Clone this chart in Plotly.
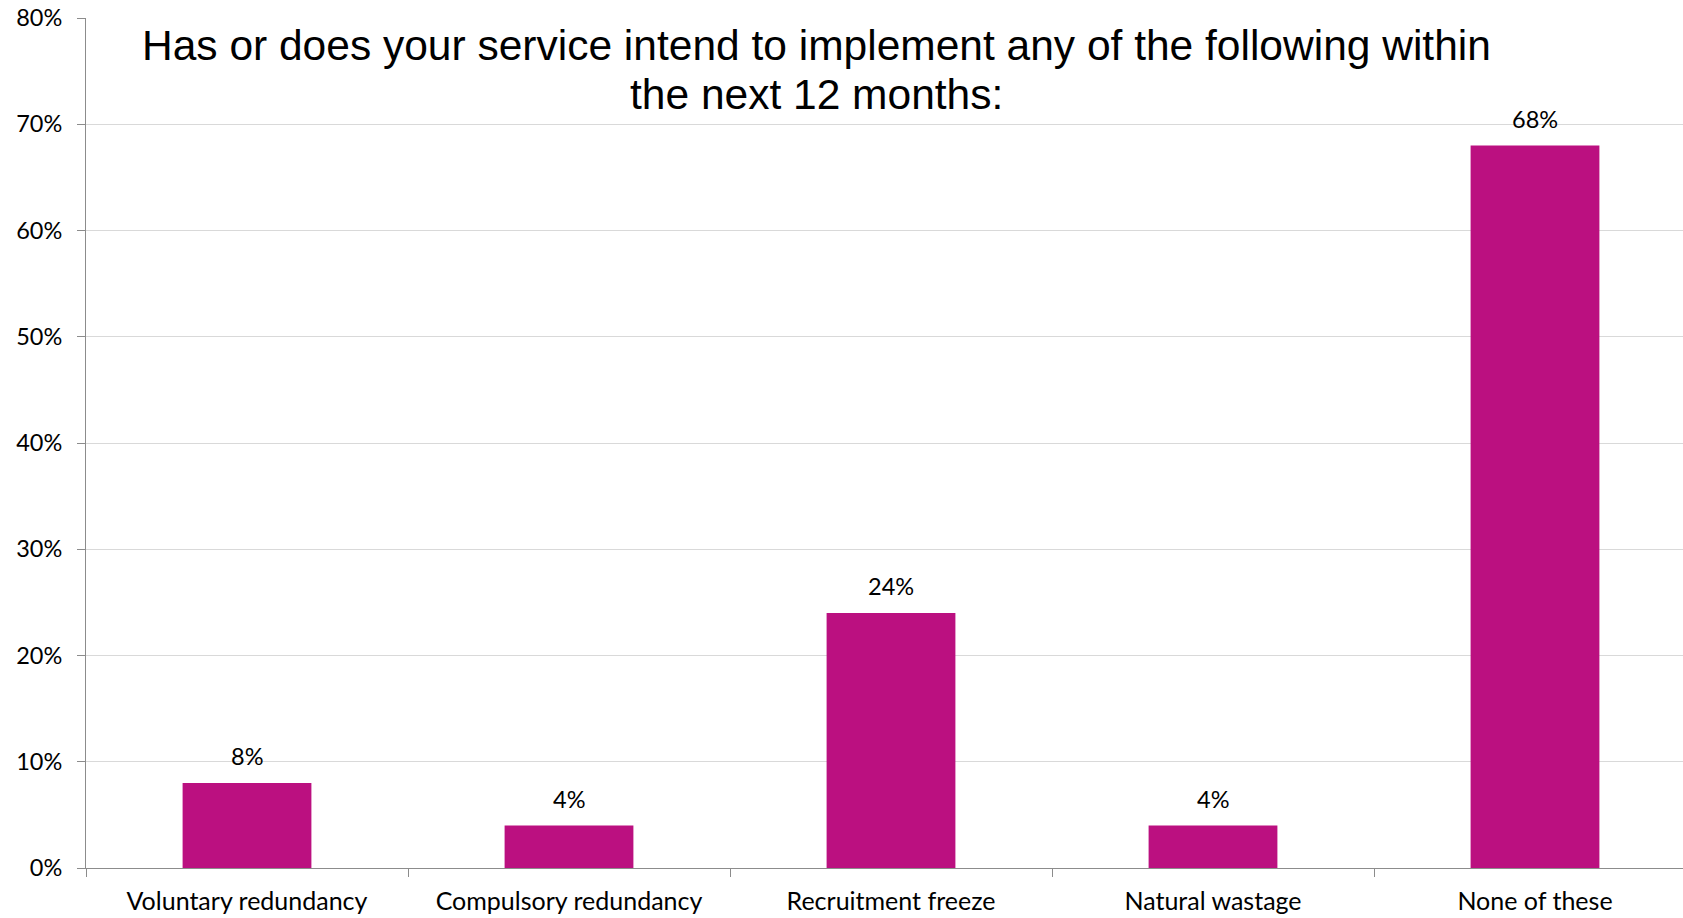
import plotly.graph_objects as go

categories = ["Voluntary redundancy", "Compulsory redundancy", "Recruitment freeze", "Natural wastage", "None of these"]
values = [8, 4, 24, 4, 68]
value_labels = ["8%", "4%", "24%", "4%", "68%"]
y_ticks = [0, 10, 20, 30, 40, 50, 60, 70, 80]
y_tick_labels = ["0%", "10%", "20%", "30%", "40%", "50%", "60%", "70%", "80%"]
title_line1 = "Has or does your service intend to implement any of the following within"
title_line2 = "the next 12 months:"

BAR = "#BB1080"
AXIS = "#8C8C8C"
GRID = "#D9D9D9"
LABEL_FONT = "Lato, Carlito, Calibri, sans-serif"
TITLE_FONT = "Liberation Sans, Arial, sans-serif"

W, H = 1683, 918
ML, MR, MT, MB = 86, 0, 18, 50
PH = H - MT - MB
PW = W - ML - MR
CAT_PX = 322.0


def page_y_to_paper(py):
    return (MT + PH - py) / PH


def page_x_to_paper(px):
    return (px - ML) / PW


fig = go.Figure()
fig.add_trace(go.Bar(
    x=categories,
    y=values,
    marker=dict(color=BAR, line=dict(width=0)),
    width=0.4,
    hoverinfo="skip",
))

annotations = []
for cat, v, lab in zip(categories, values, value_labels):
    annotations.append(dict(
        x=cat, y=v, xref="x", yref="y", text=lab, showarrow=False,
        yanchor="bottom", yshift=11,
        font=dict(family=LABEL_FONT, size=23.5, color="#000000"),
    ))

annotations.append(dict(
    x=page_x_to_paper(816), y=page_y_to_paper(71), xref="paper", yref="paper",
    text=title_line1, showarrow=False, xanchor="center", yanchor="bottom",
    font=dict(family=TITLE_FONT, size=42.5, color="#000000"),
))
annotations.append(dict(
    x=page_x_to_paper(816), y=page_y_to_paper(120), xref="paper", yref="paper",
    text=title_line2, showarrow=False, xanchor="center", yanchor="bottom",
    font=dict(family=TITLE_FONT, size=42.5, color="#000000"),
))

fig.update_layout(
    width=W, height=H,
    margin=dict(l=ML, r=MR, t=MT, b=MB, pad=0, autoexpand=False),
    paper_bgcolor="white", plot_bgcolor="white",
    showlegend=False,
    annotations=annotations,
    xaxis=dict(
        type="category",
        categoryorder="array", categoryarray=categories,
        range=[-0.5, -0.5 + PW / CAT_PX],
        tickson="boundaries",
        ticks="outside", ticklen=8, tickcolor=AXIS, tickwidth=1,
        showline=True, linecolor=AXIS, linewidth=1,
        showgrid=False, zeroline=False,
        tickfont=dict(family=LABEL_FONT, size=25, color="#000000"),
        ticklabelstandoff=11,
        automargin=False,
        fixedrange=True,
    ),
    yaxis=dict(
        range=[0, 80],
        tickmode="array",
        tickvals=y_ticks,
        ticktext=y_tick_labels,
        ticks="outside", ticklen=8, tickcolor=AXIS, tickwidth=1,
        showline=True, linecolor=AXIS, linewidth=1,
        showgrid=True, gridcolor=GRID, gridwidth=1,
        zeroline=False,
        tickfont=dict(family=LABEL_FONT, size=23.5, color="#000000"),
        ticklabelstandoff=10,
        automargin=False,
        fixedrange=True,
    ),
)

fig.write_html(
    "out.html",
    config={"displayModeBar": False},
    post_script="document.body.style.margin='0px';document.body.style.overflow='hidden';",
)
